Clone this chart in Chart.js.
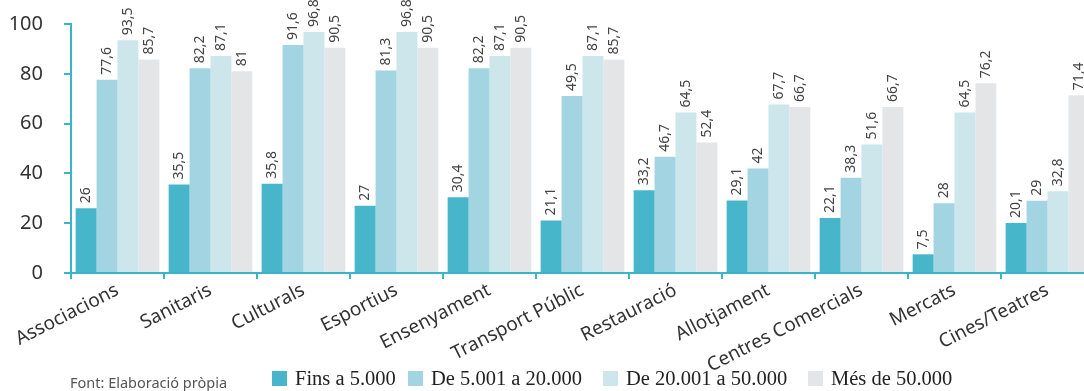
<!DOCTYPE html>
<html><head><meta charset="utf-8">
<script src="https://cdn.jsdelivr.net/npm/chart.js@4"></script>
<style>
html,body{margin:0;padding:0;background:#fff;overflow:hidden;width:1084px;height:391px;}
#wrap{position:absolute;left:0;top:0;width:1100px;height:391px;}
#foot{position:absolute;left:70px;top:372px;font:14.5px "Noto Sans",sans-serif;color:#555;}
#legend span.it{position:absolute;top:367px;font:20.5px "Liberation Serif",serif;color:#222;white-space:nowrap;}
#legend i{display:inline-block;width:15px;height:15px;margin-right:8px;vertical-align:-1px;}
</style></head>
<body>
<div id="wrap"><canvas id="c" width="1100" height="391"></canvas></div>
<div id="foot">Font: Elaboració pròpia</div>
<div id="legend"></div>
<script>
const categories = ["Associacions","Sanitaris","Culturals","Esportius","Ensenyament","Transport Públic","Restauració","Allotjament","Centres Comercials","Mercats","Cines/Teatres"];
const seriesNames = ["Fins a 5.000","De 5.001 a 20.000","De 20.001 a 50.000","Més de 50.000"];
// bar heights as drawn
const fins5000 = [26,35.5,35.8,27,30.4,21.1,33.2,29.1,22.1,7.5,20.1];
const de5001a20000 = [77.6,82.2,91.6,81.3,82.2,71.1,46.7,42,38.3,28,29];
const de20001a50000 = [93.5,87.1,96.8,96.8,87.1,87.1,64.5,67.7,51.6,64.5,32.8];
const mesde50000 = [85.7,81,90.5,90.5,90.5,85.7,52.4,66.7,66.7,76.2,71.4];
// value labels as printed (one printed label differs from its bar)
const fins5000Labels = ["26","35,5","35,8","27","30,4","21,1","33,2","29,1","22,1","7,5","20,1"];
const de5001a20000Labels = ["77,6","82,2","91,6","81,3","82,2","49,5","46,7","42","38,3","28","29"];
const de20001a50000Labels = ["93,5","87,1","96,8","96,8","87,1","87,1","64,5","67,7","51,6","64,5","32,8"];
const mesde50000Labels = ["85,7","81","90,5","90,5","90,5","85,7","52,4","66,7","66,7","76,2","71,4"];
const yTicks = [0,20,40,60,80,100];
const colors = ["#47b6ca","#a2d4e1","#cce6ec","#e4e5e7"];
const legendX = [272,408,603,808];
const allSeries = [fins5000,de5001a20000,de20001a50000,mesde50000];
const allLabels = [fins5000Labels,de5001a20000Labels,de20001a50000Labels,mesde50000Labels];

const lg = document.getElementById('legend');
seriesNames.forEach((n,i)=>{const s=document.createElement('span');s.className='it';s.style.left=legendX[i]+'px';s.innerHTML='<i style="background:'+colors[i]+'"></i>'+n;lg.appendChild(s);});

const labelPlugin = {
  id:'vlabels',
  afterDatasetsDraw(chart){
    const ctx = chart.ctx;
    ctx.save();
    ctx.font = '14px "Noto Sans", sans-serif';
    ctx.fillStyle = '#444';
    ctx.textAlign = 'left';
    ctx.textBaseline = 'middle';
    chart.data.datasets.forEach((ds,di)=>{
      chart.getDatasetMeta(di).data.forEach((bar,i)=>{
        ctx.save();
        ctx.translate(bar.x, bar.y - 5);
        ctx.rotate(-Math.PI/2);
        ctx.fillText(allLabels[di][i], 0, 0);
        ctx.restore();
      });
    });
    ctx.restore();
  }
};

new Chart(document.getElementById('c'), {
  type:'bar',
  data:{labels:categories, datasets: allSeries.map((d,i)=>({label:seriesNames[i],data:d,backgroundColor:colors[i],barPercentage:1,categoryPercentage:0.9}))},
  options:{
    responsive:false, animation:false,
    layout:{padding:{top:24,right:6,left:0,bottom:0}},
    plugins:{legend:{display:false},tooltip:{enabled:false}},
    scales:{
      y:{min:0,max:100,
        afterFit(s){s.width=71;s.paddingTop=0;s.paddingBottom=0;},
        afterBuildTicks(s){s.ticks = yTicks.map(v=>({value:v}));},
        ticks:{font:{family:'"Noto Sans", sans-serif',size:20},color:'#333',padding:21},
        grid:{display:true,drawOnChartArea:false,tickLength:7,color:'#3ab4c8',lineWidth:2},
        border:{color:'#3ab4c8',width:2}
      },
      x:{
        afterFit(s){s.height=118;s.paddingLeft=0;s.paddingRight=0;},
        ticks:{font:{family:'"Noto Sans", sans-serif',size:19},color:'#333',minRotation:27,maxRotation:27,padding:0,autoSkip:false},
        grid:{display:true,drawOnChartArea:false,offset:true,tickLength:6,color:'#3ab4c8',lineWidth:2},
        border:{color:'#3ab4c8',width:2}
      }
    }
  },
  plugins:[labelPlugin]
});
</script>
</body></html>
